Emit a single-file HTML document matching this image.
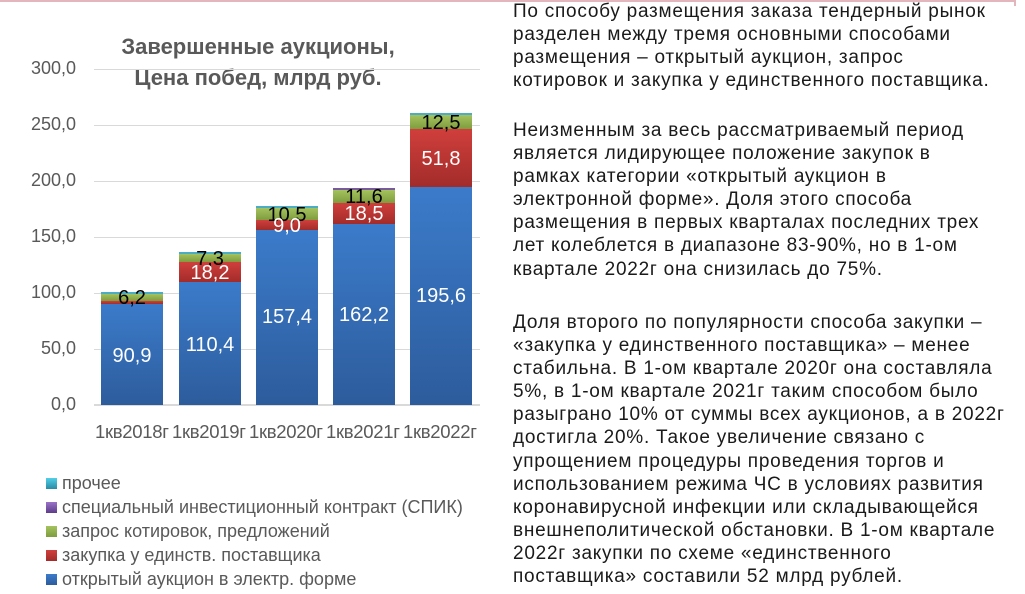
<!DOCTYPE html>
<html><head><meta charset="utf-8"><style>
*{margin:0;padding:0;box-sizing:border-box}
body{width:1025px;height:594px;background:#fff;position:relative;overflow:hidden;font-family:"Liberation Sans",sans-serif}
.a{position:absolute}
.yl{position:absolute;left:16px;width:60px;text-align:right;font-size:18px;color:#595959}
.g{position:absolute;left:94px;width:386px;height:1px;background:#d9d9d9}
.bar{position:absolute;width:62px}
.b{background:linear-gradient(#3b7bca,#2d5c9c)}
.r{background:linear-gradient(#d03f3c,#a22c2a)}
.gr{background:linear-gradient(#a4c35e,#7f9c3e)}
.c{background:#4bacc6}
.lb{position:absolute;left:-10px;width:82px;text-align:center;font-size:20px;line-height:20px}
.w{color:#fff}.k{color:#000}
.xl{position:absolute;top:421px;font-size:18.5px;color:#595959;letter-spacing:-0.3px}
.lg{position:absolute;left:46px;width:11px;height:11px}
.lt{position:absolute;left:62px;font-size:18px;color:#595959}
.t{position:absolute;left:513px;font-size:19px;color:#1a1a1a;white-space:nowrap;line-height:23.1px;letter-spacing:0.75px}
</style></head><body>
<div class="a" style="left:0;top:0;width:1015px;height:2px;background:#e3b5bd"></div>
<div class="a" style="left:1014px;top:0;width:2px;height:6px;background:#e3b5bd"></div>
<div class="a" style="left:80px;top:31px;width:356px;text-align:center;font-size:22px;font-weight:bold;color:#595959;line-height:31px">Завершенные аукционы,<br>Цена побед, млрд руб.</div>

<div class="g" style="top:69px"></div><div class="g" style="top:125px"></div><div class="g" style="top:181px"></div><div class="g" style="top:237px"></div><div class="g" style="top:293px"></div><div class="g" style="top:349px"></div>
<div class="a" style="left:94px;top:404px;width:386px;height:2px;background:#d9d9d9"></div>
<div class="yl" style="top:58px">300,0</div><div class="yl" style="top:114px">250,0</div><div class="yl" style="top:170px">200,0</div><div class="yl" style="top:226px">150,0</div><div class="yl" style="top:282px">100,0</div><div class="yl" style="top:338px">50,0</div><div class="yl" style="top:394px">0,0</div>

<div class="bar c" style="left:101px;top:292px;height:2px"></div>
<div class="bar gr" style="left:101px;top:294px;height:7px"></div>
<div class="bar r" style="left:101px;top:301px;height:3px"></div>
<div class="bar b" style="left:101px;top:304px;height:101px"></div>
<div style="position:absolute;left:101px;top:0">
<div class="lb k" style="top:288px">6,2</div>
<div class="lb w" style="top:346px">90,9</div></div>

<div class="bar c" style="left:179px;top:252px;height:2px"></div>
<div class="bar gr" style="left:179px;top:254px;height:8px"></div>
<div class="bar r" style="left:179px;top:262px;height:20px"></div>
<div class="bar b" style="left:179px;top:282px;height:123px"></div>
<div style="position:absolute;left:179px;top:0">
<div class="lb k" style="top:249px">7,3</div>
<div class="lb w" style="top:263px">18,2</div>
<div class="lb w" style="top:335px">110,4</div></div>

<div class="bar c" style="left:256px;top:206px;height:2px"></div>
<div class="bar gr" style="left:256px;top:208px;height:12px"></div>
<div class="bar r" style="left:256px;top:220px;height:10px"></div>
<div class="bar b" style="left:256px;top:230px;height:175px"></div>
<div style="position:absolute;left:256px;top:0">
<div class="lb k" style="top:205px">10,5</div>
<div class="lb w" style="top:216px">9,0</div>
<div class="lb w" style="top:307px">157,4</div></div>

<div class="bar c" style="left:333px;top:188px;height:2px;background:#7a5a9e"></div>
<div class="bar gr" style="left:333px;top:190px;height:13px"></div>
<div class="bar r" style="left:333px;top:203px;height:21px"></div>
<div class="bar b" style="left:333px;top:224px;height:181px"></div>
<div style="position:absolute;left:333px;top:0">
<div class="lb k" style="top:187px">11,6</div>
<div class="lb w" style="top:204px">18,5</div>
<div class="lb w" style="top:305px">162,2</div></div>

<div class="bar c" style="left:410px;top:113px;height:2px"></div>
<div class="bar gr" style="left:410px;top:115px;height:14px"></div>
<div class="bar r" style="left:410px;top:129px;height:58px"></div>
<div class="bar b" style="left:410px;top:187px;height:218px"></div>
<div style="position:absolute;left:410px;top:0">
<div class="lb k" style="top:113px">12,5</div>
<div class="lb w" style="top:149px">51,8</div>
<div class="lb w" style="top:286px">195,6</div></div>

<div class="xl" style="left:95px">1кв2018г</div><div class="xl" style="left:172px">1кв2019г</div><div class="xl" style="left:249px">1кв2020г</div><div class="xl" style="left:326px">1кв2021г</div><div class="xl" style="left:403px">1кв2022г</div>

<div class="lg" style="top:478px;background:linear-gradient(#4fd0e8,#2a8aa3)"></div><div class="lt" style="top:473px">прочее</div>
<div class="lg" style="top:502px;background:linear-gradient(#9a73c8,#5d3d8a)"></div><div class="lt" style="top:497px">специальный инвестиционный контракт (СПИК)</div>
<div class="lg" style="top:526px;background:linear-gradient(#a4c35e,#7f9c3e)"></div><div class="lt" style="top:521px">запрос котировок, предложений</div>
<div class="lg" style="top:550px;background:linear-gradient(#d03f3c,#a22c2a)"></div><div class="lt" style="top:545px">закупка у единств. поставщика</div>
<div class="lg" style="top:574px;background:linear-gradient(#3b7bca,#2d5c9c)"></div><div class="lt" style="top:569px">открытый аукцион в электр. форме</div>

<div class="t" style="top:0px">По способу размещения заказа тендерный рынок<br>разделен между тремя основными способами<br>размещения – открытый аукцион, запрос<br>котировок и закупка у единственного поставщика.</div>
<div class="t" style="top:119px">Неизменным за весь рассматриваемый период<br>является лидирующее положение закупок в<br>рамках категории «открытый аукцион в<br>электронной форме». Доля этого способа<br>размещения в первых кварталах последних трех<br>лет колеблется в диапазоне 83-90%, но в 1-ом<br>квартале 2022г она снизилась до 75%.</div>
<div class="t" style="top:311px">Доля второго по популярности способа закупки –<br>«закупка у единственного поставщика» – менее<br>стабильна. В 1-ом квартале 2020г она составляла<br>5%, в 1-ом квартале 2021г таким способом было<br>разыграно 10% от суммы всех аукционов, а в 2022г<br>достигла 20%. Такое увеличение связано с<br>упрощением процедуры проведения торгов и<br>использованием режима ЧС в условиях развития<br>коронавирусной инфекции или складывающейся<br>внешнеполитической обстановки. В 1-ом квартале<br>2022г закупки по схеме «единственного<br>поставщика» составили 52 млрд рублей.</div>
</body></html>
